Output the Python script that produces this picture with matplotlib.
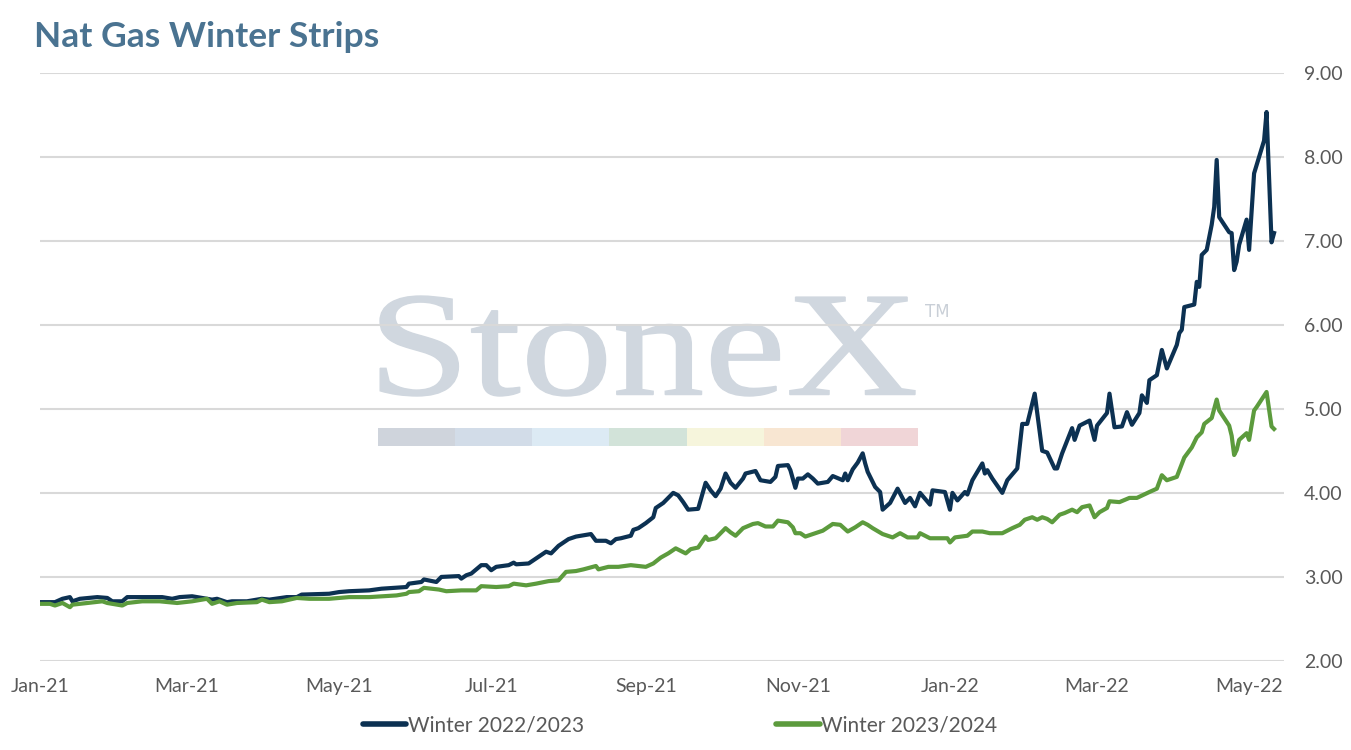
import matplotlib
matplotlib.use("Agg")
import matplotlib.pyplot as plt
import matplotlib.dates as mdates
import pandas as pd
from matplotlib.textpath import TextPath
from matplotlib.patches import PathPatch, Rectangle
from matplotlib.font_manager import FontProperties
from matplotlib.transforms import Affine2D

title = "Nat Gas Winter Strips"
series_names = ["Winter 2022/2023", "Winter 2023/2024"]
colors = ["#0c3152", "#5c9b3d"]

dates_w2223 = [
    "2021-01-01", "2021-01-07", "2021-01-10", "2021-01-13", "2021-01-14", "2021-01-17", "2021-01-24",
    "2021-01-28", "2021-01-30", "2021-02-03", "2021-02-05", "2021-02-11", "2021-02-19", "2021-02-23",
    "2021-02-26", "2021-03-03", "2021-03-07", "2021-03-11", "2021-03-13", "2021-03-17", "2021-03-19",
    "2021-03-25", "2021-03-31", "2021-04-03", "2021-04-10", "2021-04-14", "2021-04-16", "2021-04-27",
    "2021-05-01", "2021-05-05", "2021-05-13", "2021-05-18", "2021-05-28", "2021-05-29", "2021-06-03",
    "2021-06-04", "2021-06-09", "2021-06-11", "2021-06-18", "2021-06-19", "2021-06-21", "2021-06-23",
    "2021-06-27", "2021-06-29", "2021-07-01", "2021-07-03", "2021-07-08", "2021-07-10", "2021-07-11",
    "2021-07-16", "2021-07-19", "2021-07-23", "2021-07-25", "2021-07-28", "2021-08-01", "2021-08-04",
    "2021-08-10", "2021-08-12", "2021-08-16", "2021-08-18", "2021-08-20", "2021-08-22", "2021-08-26",
    "2021-08-27", "2021-08-29", "2021-09-01", "2021-09-04", "2021-09-05", "2021-09-08", "2021-09-10",
    "2021-09-12", "2021-09-14", "2021-09-16", "2021-09-18", "2021-09-22", "2021-09-25", "2021-09-27",
    "2021-09-29", "2021-10-01", "2021-10-03", "2021-10-05", "2021-10-07", "2021-10-10", "2021-10-11",
    "2021-10-15", "2021-10-17", "2021-10-21", "2021-10-23", "2021-10-24", "2021-10-28", "2021-10-29",
    "2021-10-31", "2021-11-01", "2021-11-03", "2021-11-05", "2021-11-07", "2021-11-09", "2021-11-13",
    "2021-11-15", "2021-11-19", "2021-11-20", "2021-11-21", "2021-11-23", "2021-11-25", "2021-11-27",
    "2021-11-28", "2021-11-29", "2021-12-02", "2021-12-04", "2021-12-05", "2021-12-08", "2021-12-11",
    "2021-12-14", "2021-12-16", "2021-12-18", "2021-12-20", "2021-12-24", "2021-12-25", "2021-12-30",
    "2022-01-01", "2022-01-02", "2022-01-04", "2022-01-07", "2022-01-08", "2022-01-10", "2022-01-14",
    "2022-01-15", "2022-01-16", "2022-01-18", "2022-01-22", "2022-01-24", "2022-01-28", "2022-01-30",
    "2022-02-01", "2022-02-04", "2022-02-07", "2022-02-09", "2022-02-12", "2022-02-13", "2022-02-15",
    "2022-02-19", "2022-02-20", "2022-02-22", "2022-02-26", "2022-02-28", "2022-03-01", "2022-03-05",
    "2022-03-06", "2022-03-08", "2022-03-11", "2022-03-13", "2022-03-15", "2022-03-18", "2022-03-19",
    "2022-03-21", "2022-03-22", "2022-03-25", "2022-03-27", "2022-03-29", "2022-04-02", "2022-04-03",
    "2022-04-04", "2022-04-05", "2022-04-09", "2022-04-10", "2022-04-11", "2022-04-12", "2022-04-14",
    "2022-04-16", "2022-04-17", "2022-04-18", "2022-04-19", "2022-04-23", "2022-04-24", "2022-04-25",
    "2022-04-26", "2022-04-27", "2022-04-30", "2022-05-01", "2022-05-03", "2022-05-07", "2022-05-08",
    "2022-05-10", "2022-05-11",
]
values_w2223 = [
    2.70, 2.70, 2.74, 2.76, 2.71, 2.74, 2.76,
    2.75, 2.71, 2.71, 2.76, 2.76, 2.76, 2.74,
    2.76, 2.77, 2.75, 2.73, 2.74, 2.70, 2.71,
    2.71, 2.74, 2.73, 2.76, 2.76, 2.79, 2.80,
    2.82, 2.83, 2.84, 2.86, 2.88, 2.92, 2.94,
    2.97, 2.94, 3.00, 3.01, 2.98, 3.02, 3.04,
    3.14, 3.14, 3.08, 3.12, 3.14, 3.17, 3.15,
    3.16, 3.22, 3.30, 3.28, 3.37, 3.45, 3.48,
    3.51, 3.43, 3.43, 3.40, 3.45, 3.46, 3.49,
    3.56, 3.58, 3.64, 3.71, 3.82, 3.88, 3.94,
    4.00, 3.97, 3.89, 3.80, 3.81, 4.12, 4.03,
    3.96, 4.05, 4.23, 4.12, 4.06, 4.17, 4.23,
    4.26, 4.15, 4.13, 4.19, 4.32, 4.33, 4.27,
    4.06, 4.17, 4.17, 4.22, 4.17, 4.11, 4.13,
    4.20, 4.15, 4.23, 4.15, 4.28, 4.36, 4.47,
    4.35, 4.25, 4.07, 4.01, 3.80, 3.88, 4.05,
    3.88, 3.94, 3.84, 4.00, 3.86, 4.03, 4.01,
    3.80, 4.00, 3.91, 4.01, 3.98, 4.15, 4.35,
    4.23, 4.27, 4.17, 4.00, 4.15, 4.29, 4.82,
    4.82, 5.18, 4.50, 4.48, 4.29, 4.29, 4.47,
    4.77, 4.63, 4.80, 4.86, 4.63, 4.80, 4.95,
    5.18, 4.78, 4.79, 4.96, 4.81, 4.95, 5.16,
    5.07, 5.34, 5.40, 5.70, 5.48, 5.76, 5.90,
    5.94, 6.21, 6.24, 6.51, 6.45, 6.83, 6.89,
    7.19, 7.40, 7.96, 7.28, 7.10, 7.09, 6.65,
    6.75, 6.95, 7.25, 6.89, 7.80, 8.19, 8.53,
    6.98, 7.09,
]

dates_w2324 = [
    "2021-01-01", "2021-01-05", "2021-01-07", "2021-01-10", "2021-01-13", "2021-01-14", "2021-01-20",
    "2021-01-26", "2021-01-28", "2021-02-03", "2021-02-05", "2021-02-11", "2021-02-18", "2021-02-25",
    "2021-03-03", "2021-03-09", "2021-03-11", "2021-03-14", "2021-03-17", "2021-03-21", "2021-03-29",
    "2021-03-31", "2021-04-03", "2021-04-08", "2021-04-14", "2021-04-19", "2021-04-27", "2021-05-05",
    "2021-05-13", "2021-05-24", "2021-05-28", "2021-05-29", "2021-06-02", "2021-06-04", "2021-06-10",
    "2021-06-13", "2021-06-19", "2021-06-25", "2021-06-27", "2021-07-03", "2021-07-08", "2021-07-10",
    "2021-07-15", "2021-07-19", "2021-07-24", "2021-07-28", "2021-07-31", "2021-08-04", "2021-08-07",
    "2021-08-12", "2021-08-13", "2021-08-17", "2021-08-21", "2021-08-26", "2021-09-01", "2021-09-04",
    "2021-09-07", "2021-09-10", "2021-09-13", "2021-09-17", "2021-09-19", "2021-09-22", "2021-09-25",
    "2021-09-26", "2021-09-29", "2021-10-03", "2021-10-05", "2021-10-07", "2021-10-10", "2021-10-14",
    "2021-10-16", "2021-10-19", "2021-10-22", "2021-10-24", "2021-10-28", "2021-10-30", "2021-10-31",
    "2021-11-02", "2021-11-04", "2021-11-07", "2021-11-11", "2021-11-15", "2021-11-18", "2021-11-21",
    "2021-11-24", "2021-11-27", "2021-11-29", "2021-12-01", "2021-12-05", "2021-12-09", "2021-12-12",
    "2021-12-15", "2021-12-19", "2021-12-20", "2021-12-24", "2021-12-31", "2022-01-01", "2022-01-03",
    "2022-01-08", "2022-01-10", "2022-01-14", "2022-01-17", "2022-01-22", "2022-01-26", "2022-01-29",
    "2022-01-31", "2022-02-03", "2022-02-05", "2022-02-07", "2022-02-09", "2022-02-11", "2022-02-14",
    "2022-02-16", "2022-02-19", "2022-02-21", "2022-02-23", "2022-02-26", "2022-02-28", "2022-03-02",
    "2022-03-05", "2022-03-06", "2022-03-10", "2022-03-14", "2022-03-17", "2022-03-22", "2022-03-25",
    "2022-03-27", "2022-03-29", "2022-04-02", "2022-04-05", "2022-04-08", "2022-04-10", "2022-04-12",
    "2022-04-13", "2022-04-16", "2022-04-18", "2022-04-19", "2022-04-23", "2022-04-24", "2022-04-25",
    "2022-04-26", "2022-04-27", "2022-04-30", "2022-05-01", "2022-05-03", "2022-05-04", "2022-05-08",
    "2022-05-10", "2022-05-11",
]
values_w2324 = [
    2.68, 2.68, 2.66, 2.69, 2.64, 2.67, 2.69,
    2.71, 2.69, 2.66, 2.69, 2.71, 2.71, 2.69,
    2.71, 2.74, 2.68, 2.71, 2.67, 2.69, 2.70,
    2.73, 2.70, 2.71, 2.75, 2.74, 2.74, 2.76,
    2.76, 2.78, 2.80, 2.82, 2.83, 2.87, 2.85,
    2.83, 2.84, 2.84, 2.89, 2.88, 2.89, 2.92,
    2.90, 2.92, 2.95, 2.96, 3.06, 3.07, 3.09,
    3.13, 3.09, 3.12, 3.12, 3.14, 3.12, 3.16,
    3.23, 3.28, 3.34, 3.28, 3.33, 3.35, 3.48,
    3.44, 3.46, 3.58, 3.53, 3.49, 3.58, 3.63,
    3.64, 3.60, 3.60, 3.67, 3.65, 3.59, 3.52,
    3.52, 3.48, 3.51, 3.55, 3.63, 3.62, 3.54,
    3.59, 3.65, 3.62, 3.58, 3.51, 3.47, 3.52,
    3.47, 3.47, 3.52, 3.46, 3.46, 3.41, 3.47,
    3.49, 3.54, 3.54, 3.52, 3.52, 3.58, 3.62,
    3.68, 3.71, 3.68, 3.71, 3.69, 3.65, 3.74,
    3.76, 3.80, 3.77, 3.83, 3.85, 3.71, 3.77,
    3.82, 3.90, 3.89, 3.94, 3.94, 4.01, 4.05,
    4.21, 4.15, 4.19, 4.42, 4.54, 4.66, 4.72,
    4.82, 4.89, 5.11, 4.98, 4.80, 4.68, 4.45,
    4.51, 4.63, 4.71, 4.63, 4.98, 5.02, 5.20,
    4.79, 4.76,
]

y_ticks = [2.0, 3.0, 4.0, 5.0, 6.0, 7.0, 8.0, 9.0]
x_tick_dates = ["2021-01-01", "2021-03-01", "2021-05-01", "2021-07-01", "2021-09-01",
                "2021-11-01", "2022-01-01", "2022-03-01", "2022-05-01"]

W, H, DPI = 1351, 750, 100
fig = plt.figure(figsize=(W / DPI, H / DPI), dpi=DPI)
fig.patch.set_facecolor("white")
ax = fig.add_axes([40 / W, 1 - 661 / H, (1284 - 40) / W, (661 - 72.5) / H])
ax.patch.set_alpha(0)

font = "Lato"
label_col = "#595959"

# watermark (behind gridlines)
tp = TextPath((0, 0), "StoneX", size=1, prop=FontProperties(family="Liberation Serif"))
bb = tp.get_extents()
sx = (915 - 380) / bb.width
sy = (396 - 296) / bb.height
tr = Affine2D().translate(-bb.x0, -bb.y0).scale(sx, sy).translate(380, H - 396).scale(1 / DPI) + fig.dpi_scale_trans
fig.add_artist(PathPatch(tp, transform=tr, facecolor="#d0d7df", edgecolor="#d0d7df", lw=1.0, zorder=-5))
fig.text(925 / W, 1 - 312 / H, "TM", fontsize=12, color="#c9cfd7", family="DejaVu Sans",
         va="center", ha="left", zorder=-5)
bar_cols = ["#cfd4dc", "#d2dce8", "#dceaf4", "#d2e3d9", "#f6f5dc", "#f8e6d2", "#f0d5d7"]
seg = (918 - 378) / 7
for i, c in enumerate(bar_cols):
    fig.add_artist(Rectangle(((378 + i * seg) / W, 1 - 446 / H), seg / W, 18 / H,
                             transform=fig.transFigure, facecolor=c, edgecolor="none", zorder=-5))

d1 = pd.to_datetime(dates_w2223)
d2 = pd.to_datetime(dates_w2324)
ax.plot(d1, values_w2223, color=colors[0], lw=3.0, label=series_names[0], zorder=3,
        solid_joinstyle="round")
ax.plot(d2, values_w2324, color=colors[1], lw=3.0, label=series_names[1], zorder=4,
        solid_joinstyle="round")

x0 = pd.Timestamp("2021-01-01")
ax.set_xlim(mdates.date2num(x0), mdates.date2num(x0) + (1284 - 40) / 2.493)
ax.set_ylim(2, 9)
ax.set_yticks(y_ticks)
ax.set_yticklabels([f"{v:.2f}" for v in y_ticks])
ax.yaxis.tick_right()
ax.set_xticks(pd.to_datetime(x_tick_dates))
ax.xaxis.set_major_formatter(mdates.DateFormatter("%b-%y"))
ax.tick_params(axis="both", length=0, labelsize=14, labelcolor=label_col)
ax.tick_params(axis="y", pad=14.5)
ax.tick_params(axis="x", pad=12)
for lab in ax.get_xticklabels() + ax.get_yticklabels():
    lab.set_family(font)
ax.grid(axis="y", color="#d9d9d9", lw=1.5)
ax.set_axisbelow(True)
for s in ax.spines.values():
    s.set_visible(False)

fig.text(34 / W, 1 - 37 / H, title, fontsize=25.5, fontweight="bold", color="#4a7391",
         family=font, va="center", ha="left")

leg = fig.legend(loc="center", bbox_to_anchor=(680 / W, 1 - 725 / H), ncol=2, frameon=False,
                 handlelength=2.1, handletextpad=0.08, columnspacing=9.2,
                 prop=FontProperties(family=font, size=15))
for t in leg.get_texts():
    t.set_color(label_col)
for h in leg.legend_handles:
    h.set_linewidth(4)
    h.set_solid_capstyle("round")

fig.savefig("out.png", dpi=DPI)
